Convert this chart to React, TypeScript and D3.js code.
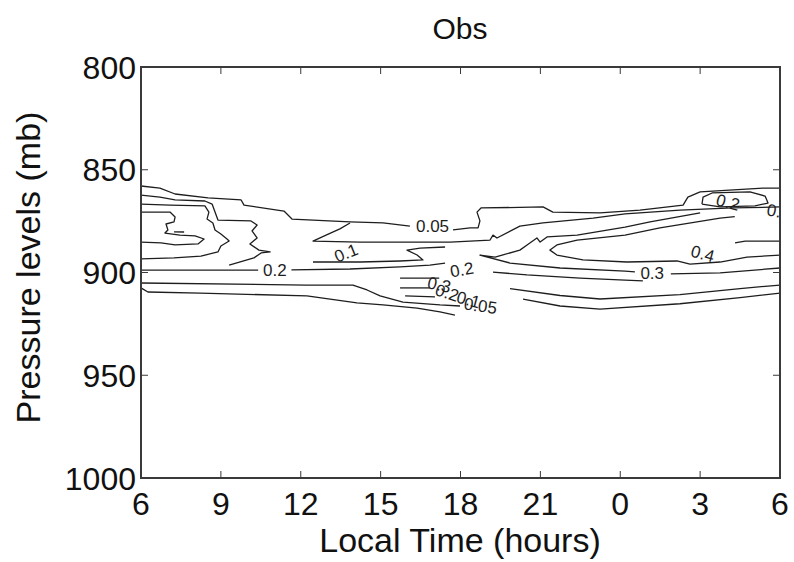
import React from "react";
import * as d3 from "d3";

const W = 794;
const H = 562;
const PLOT = { x0: 141, x1: 780, y0: 67, y1: 478 };
const FONT = "'Liberation Sans', Arial, Helvetica, sans-serif";

// x: hours since 06 local time (0..24); y: pressure (mb)
const hourTicks = [0, 3, 6, 9, 12, 15, 18, 21, 24];
const hourTickLabels = ["6", "9", "12", "15", "18", "21", "0", "3", "6"];
const pressureTicks = [800, 850, 900, 950, 1000];

type Pt = [number, number];

// contour polylines: [hour offset, pressure]
const lineA1: Pt[] = [[0, 857.9], [0.71, 858.9], [1.28, 861.8], [2.52, 863.7], [3.76, 864.7], [3.87, 867.2], [5.37, 870.1], [5.67, 874.0], [7.85, 875.4], [9.09, 875.9], [10.1, 877.4]];
const lineA2: Pt[] = [[0, 862.3], [0.71, 863.3], [1.28, 864.7], [2.4, 865.2], [2.67, 866.7], [2.78, 870.6], [2.89, 874.5], [4.13, 874.9], [4.36, 876.9], [4.17, 879.8], [4.36, 883.2], [4.09, 886.1], [4.43, 889.1], [4.85, 890.0], [4.51, 890.5], [4.24, 892.9], [3.31, 896.4]];
const lineA3: Pt[] = [[0, 866.7], [1.09, 867.2], [2.4, 867.6], [2.55, 870.6], [2.48, 874.0], [2.7, 875.9], [2.78, 879.3], [3.0, 881.3], [3.23, 883.7], [3.31, 884.7], [3.0, 887.1], [2.89, 890.0], [2.25, 892.0], [1.24, 892.9], [0, 893.4]];
const lineA4: Pt[] = [[0, 870.6], [1.09, 870.6], [1.28, 873.0], [1.24, 875.4], [0.94, 876.4], [1.01, 879.3], [0.9, 880.8], [1.46, 881.8], [2.03, 882.2], [2.37, 883.7], [2.14, 886.1], [1.28, 886.6], [0.75, 885.6], [0, 885.2]];
const lineA4inner: Pt[] = [[1.24, 880.2], [1.62, 880.3]];
const lineA6a: Pt[] = [[0, 898.8], [4.4, 898.8]];
const lineA6b: Pt[] = [[5.65, 898.7], [7.85, 898.3], [9.73, 897.3], [10.85, 896.4], [11.42, 895.4]];
const lineA7: Pt[] = [[0, 905.1], [6.2, 906.1], [7.96, 906.1], [8.49, 908.5], [8.98, 911.4], [9.84, 914.4], [11.23, 915.8], [11.98, 916.3]];
const lineA8: Pt[] = [[0, 907.5], [0.26, 909.5], [2.22, 910.0], [6.23, 911.4], [8.11, 914.8], [9.09, 915.8], [10.37, 917.3], [11.23, 919.2], [11.79, 920.7]];
const lineM1: Pt[] = [[7.85, 875.9], [7.47, 878.8], [6.95, 881.8], [6.46, 884.7], [8.23, 885.2], [9.73, 885.2], [11.61, 885.2], [13.11, 884.2], [13.22, 881.8], [13.37, 883.2], [14.23, 877.4], [15.1, 875.9], [16.98, 873.5], [18.18, 871.5], [20.24, 869.6], [22.23, 868.6], [24, 868.1]];
const lineM2: Pt[] = [[6.46, 894.9], [8.23, 894.9], [9.73, 894.4], [10.59, 893.9], [10.37, 891.5], [9.99, 889.1], [10.48, 888.1], [11.42, 887.6]];
const lineS1: Pt[] = [[9.73, 902.7], [11.2, 902.7]];
const lineS2: Pt[] = [[9.73, 907.5], [10.85, 907.5]];
const lineS3: Pt[] = [[9.92, 911.4], [11.04, 911.9]];
const lineR1: Pt[] = [[11.72, 879.3], [12.36, 878.3], [12.66, 878.3], [12.73, 874.9], [12.62, 870.6], [12.77, 868.6], [15.1, 868.1], [15.47, 870.6], [17.24, 871.0], [18.74, 869.6], [20.36, 867.2], [20.54, 863.3], [21.0, 860.8], [23.36, 858.9], [24, 858.9]];
const lineU1a: Pt[] = [[21.0, 871.0], [19.12, 875.4], [18.18, 877.9], [16.38, 881.8], [15.25, 882.7], [14.99, 885.2], [14.87, 883.2], [14.5, 886.6], [14.23, 889.1], [13.3, 892.5], [12.73, 891.5], [13.86, 895.4], [15.74, 897.8], [18.18, 899.3], [18.55, 899.7]];
const lineU1b: Pt[] = [[19.9, 900.7], [21.75, 900.2], [24, 897.8]];
const lineU2: Pt[] = [[22.3, 872.8], [21.75, 873.5], [19.49, 878.3], [18.18, 881.8], [16.38, 884.2], [15.62, 886.6], [15.36, 889.1], [15.62, 891.5], [16.6, 893.9], [18.25, 894.9], [20.13, 894.4], [20.62, 895.9], [21.75, 894.9], [22.76, 892.5], [24, 891.5]];
const lineU3: Pt[] = [[22.31, 885.6], [22.69, 884.7], [24, 884.7]];
const lineB0: Pt[] = [[13.22, 899.8], [14.5, 901.2], [16.49, 902.7], [18.18, 903.7], [18.85, 904.1]];
const lineB1: Pt[] = [[13.86, 907.8], [15.74, 911.2], [17.24, 912.9], [20.24, 910.8], [22.5, 907.8], [24, 906.1]];
const lineB2: Pt[] = [[14.35, 913.0], [15.74, 916.3], [17.24, 917.8], [20.24, 915.2], [22.5, 912.2], [24, 910.0]];
const lineLoop: Pt[] = [[21.07, 866.7], [21.11, 863.3], [21.45, 861.3], [22.87, 860.8], [23.44, 862.8], [23.55, 866.2], [23.06, 867.6], [21.75, 868.1], [21.07, 866.7]];

const contourLines: Pt[][] = [
  lineA1, lineA2, lineA3, lineA4, lineA4inner, lineA6a, lineA6b, lineA7, lineA8,
  lineM1, lineM2, lineS1, lineS2, lineS3, lineR1, lineU1a, lineU1b, lineU2, lineU3,
  lineB0, lineB1, lineB2, lineLoop,
];

// contour labels
const labelTexts = ["0.05", "0.2", "0.1", "0.2", "0.3", "0.2", "0.1", "0.05", "0.3", "0.4", "0.2", "0.1"];
const labelHours = [10.95, 5.03, 7.7, 12.05, 11.2, 11.5, 12.3, 12.75, 19.2, 21.1, 22.05, 23.95];
const labelPressures = [877.6, 898.6, 890.4, 898.6, 905.9, 909.8, 913.2, 916.2, 900.3, 890.8, 865.8, 870.3];
const labelAngles = [0, 0, -22, -10, 12, 18, 15, 8, 0, 15, 15, 10];

export default function App() {
  const x = d3.scaleLinear().domain([0, 24]).range([PLOT.x0, PLOT.x1]);
  const y = d3.scaleLinear().domain([800, 1000]).range([PLOT.y0, PLOT.y1]);
  const line = d3.line<Pt>().x((d) => x(d[0])).y((d) => y(d[1]));
  const tick = 7;
  const axisColor = "#3a3a3a";

  return (
    <svg
      width={W}
      height={H}
      viewBox={`0 0 ${W} ${H}`}
      style={{ position: "absolute", left: 0, top: 0, background: "#fff" }}
      fontFamily={FONT}
    >
      <defs>
        <clipPath id="plotclip">
          <rect x={PLOT.x0} y={PLOT.y0} width={PLOT.x1 - PLOT.x0} height={PLOT.y1 - PLOT.y0} />
        </clipPath>
      </defs>
      <rect x={0} y={0} width={W} height={H} fill="#fff" />

      <g clipPath="url(#plotclip)">
        {contourLines.map((pts, i) => (
          <path key={i} d={line(pts) || ""} fill="none" stroke="#1e1e1e" strokeWidth={1.3} strokeLinejoin="round" />
        ))}
        {labelTexts.map((t, i) => {
          const lx = x(labelHours[i]);
          const ly = y(labelPressures[i]);
          return (
            <text
              key={i}
              x={lx}
              y={ly}
              dy="0.35em"
              textAnchor="middle"
              fontSize={17}
              fill="#1e1e1e"
              transform={`rotate(${labelAngles[i]} ${lx} ${ly})`}
            >
              {t}
            </text>
          );
        })}
      </g>

      {/* frame */}
      <rect
        x={PLOT.x0}
        y={PLOT.y0}
        width={PLOT.x1 - PLOT.x0}
        height={PLOT.y1 - PLOT.y0}
        fill="none"
        stroke={axisColor}
        strokeWidth={2}
      />
      {hourTicks.map((h, i) => (
        <g key={"xt" + i}>
          <line x1={x(h)} x2={x(h)} y1={PLOT.y1} y2={PLOT.y1 - tick} stroke={axisColor} strokeWidth={1} />
          <line x1={x(h)} x2={x(h)} y1={PLOT.y0} y2={PLOT.y0 + tick} stroke={axisColor} strokeWidth={1} />
          <text x={x(h)} y={515} textAnchor="middle" fontSize={32} fill="#111">
            {hourTickLabels[i]}
          </text>
        </g>
      ))}
      {pressureTicks.map((p, i) => (
        <g key={"yt" + i}>
          <line x1={PLOT.x0} x2={PLOT.x0 + tick} y1={y(p)} y2={y(p)} stroke={axisColor} strokeWidth={1} />
          <line x1={PLOT.x1} x2={PLOT.x1 - tick} y1={y(p)} y2={y(p)} stroke={axisColor} strokeWidth={1} />
          <text x={136} y={y(p)} dy="0.36em" textAnchor="end" fontSize={32} fill="#111">
            {p}
          </text>
        </g>
      ))}

      <text x={460} y={39} textAnchor="middle" fontSize={30} fill="#111">
        Obs
      </text>
      <text x={460} y={552} textAnchor="middle" fontSize={34} fill="#111">
        Local Time (hours)
      </text>
      <text
        x={0}
        y={0}
        textAnchor="middle"
        fontSize={34}
        fill="#111"
        transform={`translate(40, ${(PLOT.y0 + PLOT.y1) / 2 - 5}) rotate(-90)`}
      >
        Pressure levels (mb)
      </text>
    </svg>
  );
}
